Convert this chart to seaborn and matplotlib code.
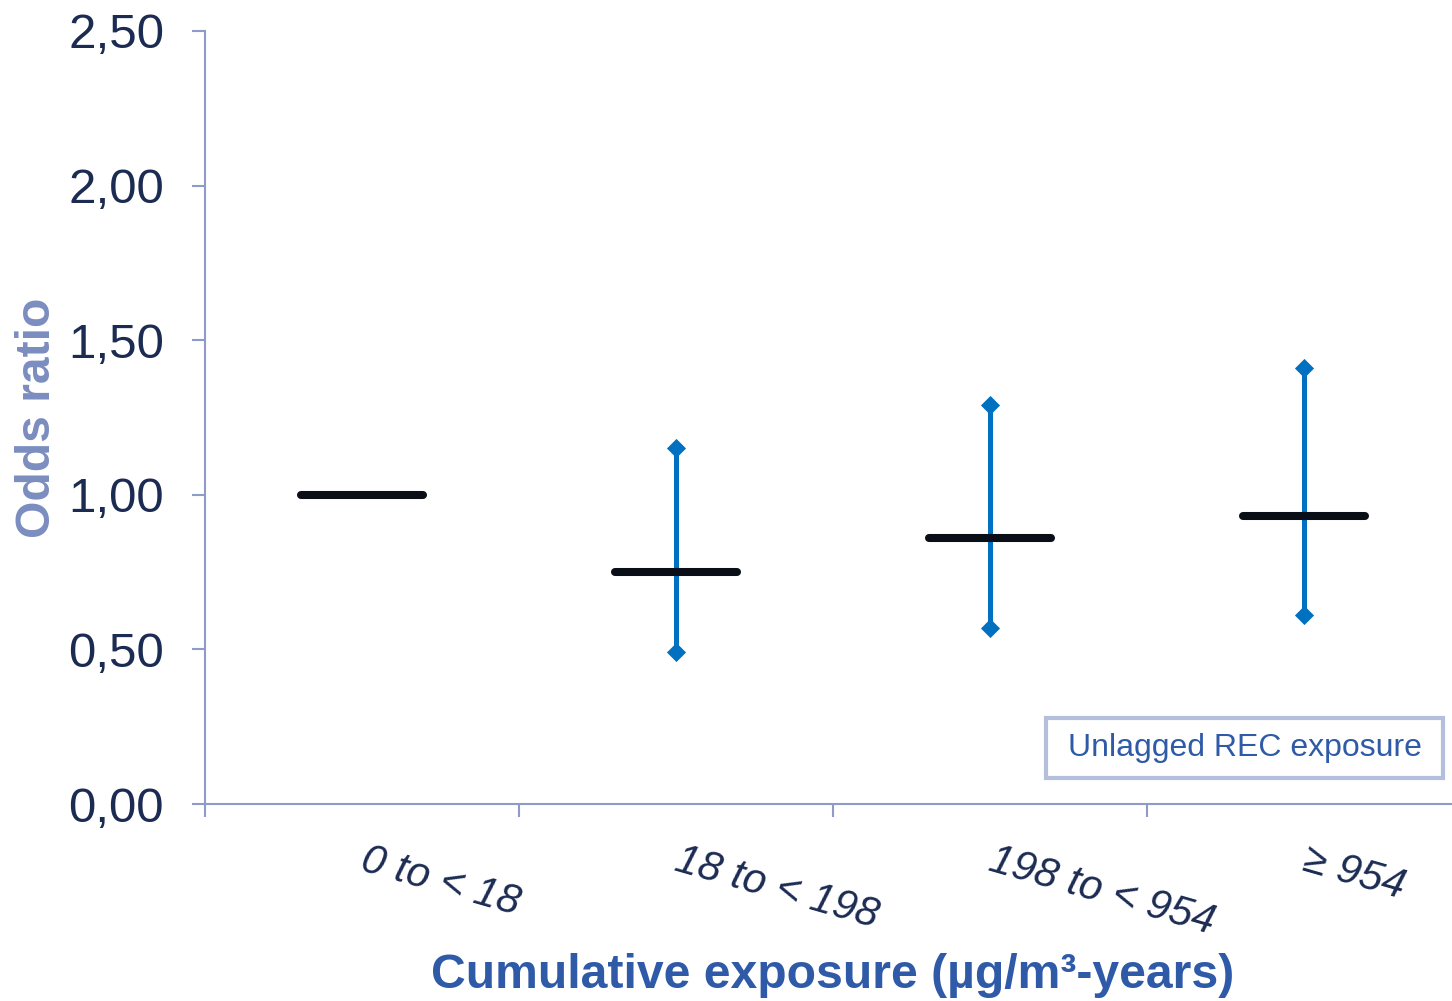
import numpy as np
import pandas as pd
import matplotlib
matplotlib.use("Agg")
import matplotlib.pyplot as plt
import matplotlib.transforms as mtransforms
from matplotlib.patches import Rectangle
import seaborn as sns

# Odds ratios with 95% confidence limits per cumulative exposure band
categories = ["0 to < 18", "18 to < 198", "198 to < 954", "\u2265 954"]
odds_ratio = [1.00, 0.75, 0.86, 0.93]
ci_lower = [np.nan, 0.49, 0.57, 0.61]
ci_upper = [np.nan, 1.15, 1.29, 1.41]
y_ticks = [0.0, 0.5, 1.0, 1.5, 2.0, 2.5]
y_tick_labels = ["0,00", "0,50", "1,00", "1,50", "2,00", "2,50"]

BLUE = "#0070c0"
MEAN = "#0a0e17"
AXIS = "#8e9bc9"
TICK_TXT = "#1b2b52"
XLAB = "#2f5aa8"
YLAB = "#7b8dc0"
BOX = "#b4bfdd"

sns.set_theme(style="white")
plt.rcParams["font.family"] = ["Liberation Sans", "DejaVu Sans"]

# Long table: lower limit, estimate, upper limit per band (reference band: estimate only)
rows = []
for cat, lo, est, hi in zip(categories, ci_lower, odds_ratio, ci_upper):
    for v in (lo, est, hi):
        if not np.isnan(v):
            rows.append({"band": cat, "value": v})
long_df = pd.DataFrame(rows)
limits_df = pd.DataFrame({"band": categories, "lower": ci_lower, "upper": ci_upper}).dropna()

fig = plt.figure(figsize=(14.52, 10.01), dpi=100)
ax = fig.add_axes([205 / 1452, 1 - 804 / 1001, 1256 / 1452, 773 / 1001])

# Confidence interval whiskers: median of (lower, estimate, upper) with full-range interval
sns.pointplot(data=long_df, x="band", y="value", order=categories,
              estimator="median", errorbar=("pi", 100),
              color=BLUE, linestyle="none", marker="",
              err_kws={"linewidth": 3.6, "solid_capstyle": "butt"}, ax=ax, zorder=2)

# Diamond end markers on the interval limits
lim_long = limits_df.melt(id_vars="band", value_vars=["lower", "upper"], value_name="limit")
sns.scatterplot(data=lim_long, x="band", y="limit", marker="D", s=95,
                color=BLUE, edgecolor=BLUE, linewidth=0, ax=ax, zorder=3, legend=False)

# Point estimates as short horizontal bars
xpos = np.arange(len(categories))
hl = ax.hlines(odds_ratio, xpos - 0.195, xpos + 0.195, colors=MEAN, linewidth=5.8, zorder=4)
hl.set_capstyle("round")

ax.set_xlim(-0.5, len(categories) - 0.5)
ax.set_ylim(0, 2.5)

# Axis styling
for side in ("top", "right"):
    ax.spines[side].set_visible(False)
for side in ("left", "bottom"):
    ax.spines[side].set_color(AXIS)
    ax.spines[side].set_linewidth(1.5)

ax.set_yticks(y_ticks)
ax.set_yticklabels(y_tick_labels, fontsize=35.5, color=TICK_TXT)
ax.tick_params(axis="y", direction="out", length=9.5, width=1.5, color=AXIS, pad=20, left=True)

ax.set_xticks(xpos)
ax.set_xticklabels(categories, fontsize=30, color=TICK_TXT, style="italic",
                   rotation=-16, ha="left", va="top", rotation_mode="anchor")
ax.tick_params(axis="x", which="major", length=0, pad=26)
shift = mtransforms.ScaledTranslation(6 / 100, 0, fig.dpi_scale_trans)
for lab in ax.get_xticklabels():
    lab.set_transform(lab.get_transform() + shift)
ax.set_xticks(np.arange(len(categories)) - 0.5, minor=True)
ax.tick_params(axis="x", which="minor", direction="out", length=9, width=1.5,
               color=AXIS, bottom=True)

ax.set_xlabel("Cumulative exposure (\u00b5g/m\u00b3-years)", fontsize=34.7,
              fontweight="bold", color=XLAB)
ax.xaxis.set_label_coords(0.5, -(976 - 804) / 773)
ax.xaxis.label.set_va("center")
ax.set_ylabel("Odds ratio", fontsize=34.6, fontweight="bold", color=YLAB)
ax.yaxis.set_label_coords(-(205 - 37) / 1256, 0.5)
ax.yaxis.label.set_va("center")

# Series label box
ax.add_patch(Rectangle((841 / 1256, 26 / 773), 397 / 1256, 60 / 773,
                       transform=ax.transAxes, facecolor="white", edgecolor=BOX,
                       linewidth=3, zorder=5, clip_on=False))
ax.text(1039.5 / 1256, 56 / 773, "Unlagged REC exposure", transform=ax.transAxes,
        fontsize=23, color=XLAB, ha="center", va="center", zorder=6)

fig.savefig("out.png", dpi=100, facecolor="white")
